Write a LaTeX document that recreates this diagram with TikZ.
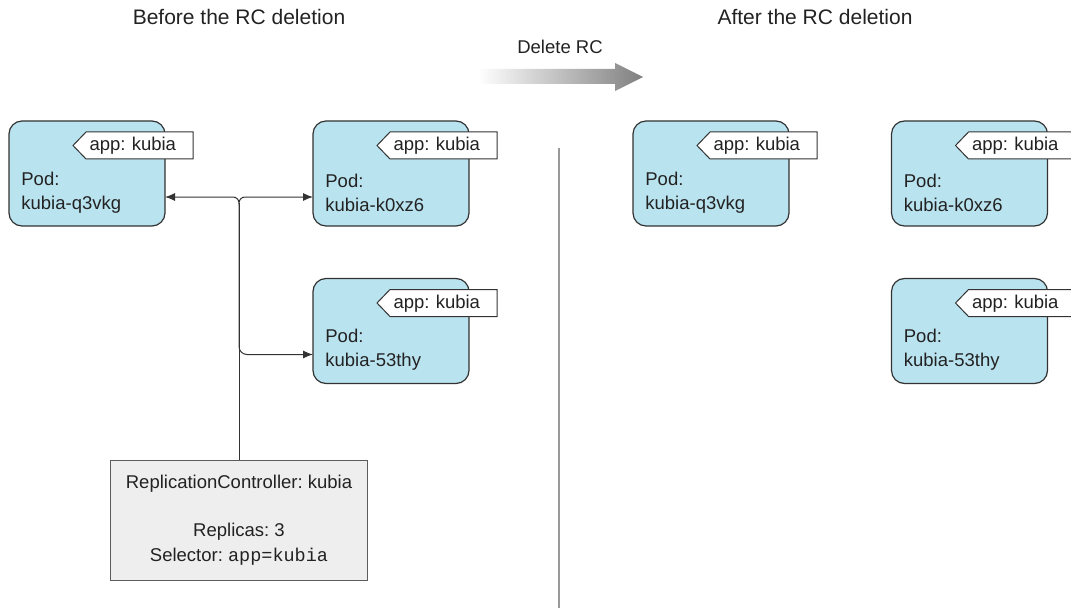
\documentclass[tikz,border=0pt]{standalone}
\usepackage{fontspec}
\setmainfont{Liberation Sans}
\setmonofont{Liberation Mono}
\usetikzlibrary{arrows.meta,calc}
\definecolor{podblue}{HTML}{BAE3F0}
\definecolor{rcgray}{HTML}{EEEEEE}
\definecolor{edgegray}{HTML}{333333}
\definecolor{textgray}{HTML}{222222}
\frenchspacing

\tikzset{
  pod/.style={draw=edgegray, fill=podblue, line width=0.6pt, rounded corners=6.5pt,
    minimum width=78pt, minimum height=52.5pt, outer sep=0pt},
  podname/.style={anchor=west, align=left, inner sep=0pt, text=textgray,
    font=\fontsize{9.25}{12}\selectfont},
  tagshape/.style={draw=edgegray, fill=white, line width=0.5pt},
  tagtext/.style={anchor=north east, align=left, inner xsep=2pt, inner ysep=0pt,
    text width=49.5pt, minimum height=13.5pt, text=textgray,
    font=\fontsize{9.25}{11}\selectfont},
  rcbox/.style={draw=edgegray!80, fill=rcgray, line width=0.6pt, align=center,
    minimum width=128.5pt, minimum height=60pt, text=textgray,
    font=\fontsize{9.25}{12.5}\selectfont},
  heading/.style={text=textgray, font=\fontsize{10.5}{12.6}\selectfont},
  link/.style={draw=edgegray, line width=0.5pt, >={Latex[length=5pt,width=4pt]}}
}

\begin{document}
\begin{tikzpicture}[x=0.5pt, y=-0.5pt]
\useasboundingbox (0,0) rectangle (1071,615);

% --- headings ---
\node[heading] (before) at (239,17) {Before the RC deletion};
\node[heading] (after) at (815,17) {After the RC deletion};
\node[heading, font=\fontsize{9.25}{11}\selectfont] (delete) at (560,47) {Delete RC};

% --- shaded arrow ---
\shade[left color=white, right color=black!50]
  (478,69) -- (615,69) -- (615,63) -- (643,77) -- (615,91) -- (615,84) -- (478,84) -- cycle;

% --- divider ---
\draw[black!40, line width=0.6pt] (559,148) -- (559,608);

% --- pods ---
\foreach \p/\pname/\px/\py in {q3vkg/kubia-q3vkg/87/173.5, k0xz6/kubia-k0xz6/391/173.5,
    thy/kubia-53thy/391/331, q3vkg-after/kubia-q3vkg/711/173.5,
    k0xz6-after/kubia-k0xz6/969.5/173.5, thy-after/kubia-53thy/969.5/331} {
  \node[pod] (\p) at (\px,\py) {};
  \node[podname] (\p-name) at ([xshift=6pt,yshift=-9.5pt]\p.west) {Pod:\\\pname};
  \draw[tagshape] ([xshift=14pt,yshift=-5.5pt]\p.north east) -- ++(-53.5pt,0)
    -- ++(-6.5pt,-6.75pt) -- ++(6.5pt,-6.75pt) -- ++(53.5pt,0) -- cycle;
  \node[tagtext] (\p-tag) at ([xshift=14pt,yshift=-5.5pt]\p.north east) {app: kubia};
}

% --- replication controller ---
\node[rcbox] (rc) at (239,520.5)
  {ReplicationController: kubia\\[11.5pt]Replicas: 3\\Selector: \texttt{app=kubia}};

% --- selector links ---
\coordinate (fork) at (239,197);
\coordinate (thy-in) at ([yshift=-11.75pt]thy.west);
\draw[link, <->] ([yshift=-11.75pt]q3vkg.east) -- ([xshift=-3pt]fork)
  to[out=0,in=90] ([yshift=-3pt]fork) to[out=90,in=180] ([xshift=3pt]fork)
  -- ([yshift=-11.75pt]k0xz6.west);
\draw[link] (rc.north) -- ([yshift=-3pt]fork);
\draw[link, ->, rounded corners=4pt] ([yshift=-3pt]fork) -- (fork |- thy-in) -- (thy-in);

\end{tikzpicture}
\end{document}
